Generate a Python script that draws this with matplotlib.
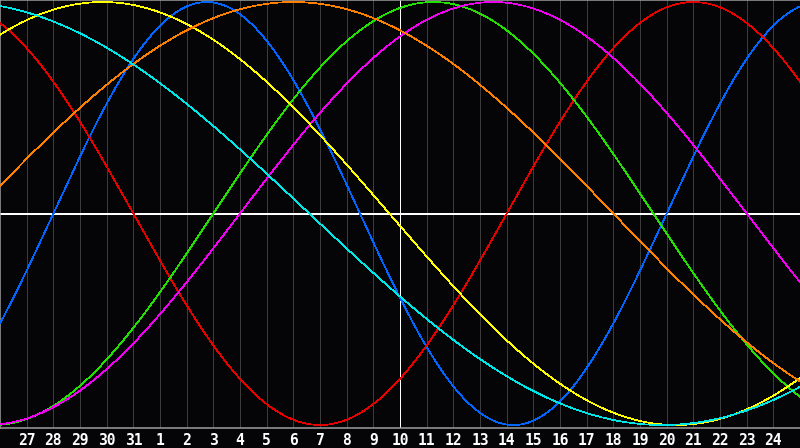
import numpy as np
import matplotlib
matplotlib.use("Agg")
import matplotlib.pyplot as plt

# day labels under the grid lines (positions 1..29 on the day axis)
day_labels = [27, 28, 29, 30, 31, 1, 2, 3, 4, 5, 6, 7, 8, 9, 10, 11, 12,
              13, 14, 15, 16, 17, 18, 19, 20, 21, 22, 23, 24]
today_pos = 15   # day 10, white marker line

# cycles: length in days and the day position where the curve goes up through zero
periods = [23, 28, 33, 38, 43, 48, 53]
zero_up = [2.0, -9.0, 8.0, 9.0, -6.9, -1.0, -14.9]
colors = ["#0066ff", "#e60000", "#22e000", "#f000f0", "#ffff00", "#ff8000", "#00e6e6"]

bg = "#050508"
px = 72 / 100   # one pixel in points

fig = plt.figure(figsize=(8, 4.48), dpi=100, facecolor=bg)
ax = fig.add_axes([0, 20 / 448, 1, 428 / 448], facecolor=bg)

days = np.linspace(0, 30, 1601)
for p, z, c in zip(periods, zero_up, colors):
    ax.plot(days, np.sin(2 * np.pi * (days - z) / p), color=c, lw=0.5,
            antialiased=False, zorder=3)

tick_pos = np.arange(1, len(day_labels) + 1)
for t in tick_pos:
    ax.axvline(t, color="#3c3c3c", lw=px, antialiased=False, zorder=1)
ax.axvline(today_pos, color="white", lw=px, antialiased=False, zorder=2)
ax.axhline(0, color="white", lw=2 * px, antialiased=False, zorder=2)

ax.set_xlim(0, 30)
ax.set_ylim(-1.014, 1.0095)
ax.set_yticks([])
ax.set_xticks(tick_pos)
ax.set_xticklabels([str(d) for d in day_labels], color="white",
                   fontsize=10.5, fontweight="bold", family="DejaVu Sans Mono")
ax.tick_params(axis="x", length=0, pad=3.5)

for s in ["left", "top", "bottom"]:
    ax.spines[s].set_color("#a0a0a0")
    ax.spines[s].set_linewidth(px * 1.5)
ax.spines["right"].set_visible(False)

fig.savefig("out.png", dpi=100, facecolor=bg)
